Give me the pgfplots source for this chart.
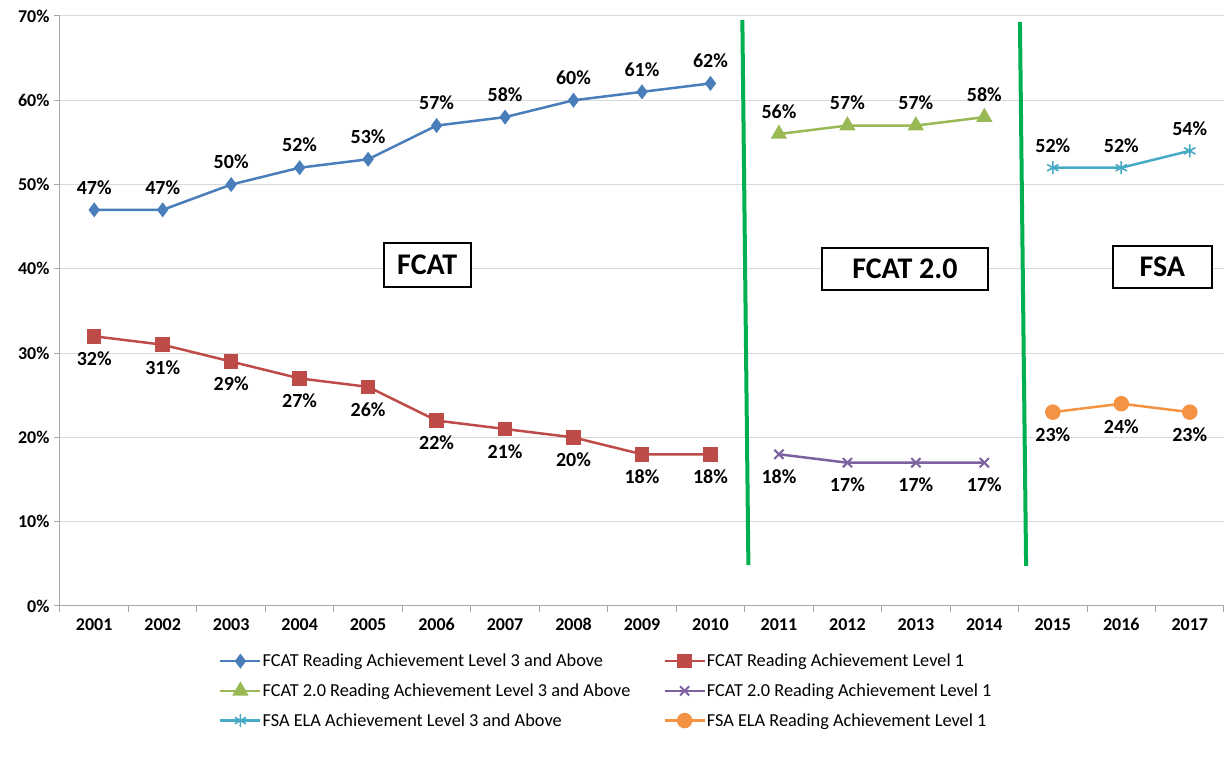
\documentclass[border=0pt]{standalone}
\usepackage{pgfplots}
\pgfplotsset{compat=1.18}
\usepackage{fontspec}
\setmainfont{Carlito}
\definecolor{cblue}{HTML}{4A7EBB}
\definecolor{cred}{HTML}{BE4B48}
\definecolor{cgreen}{HTML}{98B954}
\definecolor{cpurple}{HTML}{7D60A0}
\definecolor{cteal}{HTML}{46AAC5}
\definecolor{corange}{HTML}{F39343}
\definecolor{vgreen}{HTML}{00B050}
\definecolor{gridc}{HTML}{D9D9D9}
\begin{document}
\begin{tikzpicture}
\begin{axis}[
  scale only axis,
  width=1164pt, height=590pt,
  xmin=-0.5, xmax=16.5, ymin=0, ymax=70,
  axis x line*=bottom, axis y line*=left,
  axis line style={draw=gray!70, line width=1pt},
  xtick={0,...,16},
  xticklabels={2001,2002,2003,2004,2005,2006,2007,2008,2009,2010,2011,2012,2013,2014,2015,2016,2017},
  minor xtick={-0.5,0.5,...,16.5},
  major x tick style={draw=none},
  minor x tick style={draw=gray!70, line width=1pt},
  ytick={0,10,...,70},
  yticklabel={\pgfmathprintnumber{\tick}\%},
  ymajorgrids, grid style={gridc, line width=1pt},
  y tick style={draw=gray!70, line width=1pt},
  tick align=outside,
  major tick length=6pt, minor tick length=6pt,
  ticklabel style={font=\fontsize{18}{20}\selectfont\bfseries},
  /pgf/number format/assume math mode=true,
  xticklabel style={yshift=-3pt},
  yticklabel style={xshift=-1pt},
  clip=false,
  nodes near coords={\pgfmathprintnumber{\pgfplotspointmeta}\%},
  every node near coord/.style={font=\fontsize{20}{22}\selectfont\bfseries, text=black},
  legend style={draw=none, fill=none, at={(axis description cs:0.134,-0.076)}, anchor=north west,
    font=\fontsize{18.3}{20}\selectfont, legend cell align=left,
    nodes={inner sep=1pt}, row sep=13.5pt,
    /tikz/every even column/.style={column sep=32pt}},
  legend columns=2,
  legend image code/.code={
    \draw[#1, mark repeat=2, mark phase=2] plot coordinates {(0pt,0pt) (20pt,0pt) (40pt,0pt)};},
  every axis plot/.append style={line width=2.5pt},
]
\addplot[cblue, mark=diamond*, mark size=5.5pt, mark options={solid},
  every node near coord/.append style={anchor=south, yshift=11pt}]
  coordinates {(0,47)(1,47)(2,50)(3,52)(4,53)(5,57)(6,58)(7,60)(8,61)(9,62)};
\addlegendentry{FCAT Reading Achievement Level 3 and Above}
\addplot[cred, mark=square*, mark size=6pt,
  every node near coord/.append style={anchor=north, yshift=-11pt}]
  coordinates {(0,32)(1,31)(2,29)(3,27)(4,26)(5,22)(6,21)(7,20)(8,18)(9,18)};
\addlegendentry{FCAT Reading Achievement Level 1}
\addplot[cgreen, mark=triangle*, mark size=7pt,
  every node near coord/.append style={anchor=south, yshift=11pt}]
  coordinates {(10,56)(11,57)(12,57)(13,58)};
\addlegendentry{FCAT 2.0 Reading Achievement Level 3 and Above}
\addplot[cpurple, mark=x, mark size=6.5pt, mark options={line width=2pt},
  every node near coord/.append style={anchor=north, yshift=-11pt}]
  coordinates {(10,18)(11,17)(12,17)(13,17)};
\addlegendentry{FCAT 2.0 Reading Achievement Level 1}
\addplot[cteal, mark=asterisk, mark size=6.5pt, mark options={line width=1.6pt},
  every node near coord/.append style={anchor=south, yshift=11pt}]
  coordinates {(14,52)(15,52)(16,54)};
\addlegendentry{FSA ELA Achievement Level 3 and Above}
\addplot[corange, mark=*, mark size=6.5pt,
  every node near coord/.append style={anchor=north, yshift=-11pt}]
  coordinates {(14,23)(15,24)(16,23)};
\addlegendentry{FSA ELA Reading Achievement Level 1}
\draw[vgreen, line width=4pt] (axis cs:9.466,69.5) -- (axis cs:9.554,4.86);
\draw[vgreen, line width=4pt] (axis cs:13.52,69.3) -- (axis cs:13.61,4.75);
\node[draw=black, line width=1.6pt, fill=white, minimum width=87pt, minimum height=44pt, font=\fontsize{30}{32}\selectfont\bfseries] at (axis cs:4.864,40.46) {FCAT};
\node[draw=black, line width=1.6pt, fill=white, minimum width=166pt, minimum height=42pt, font=\fontsize{30}{32}\selectfont\bfseries] at (axis cs:11.84,39.98) {FCAT 2.0};
\node[draw=black, line width=1.6pt, fill=white, minimum width=99pt, minimum height=42pt, font=\fontsize{30}{32}\selectfont\bfseries] at (axis cs:15.60,40.22) {FSA};
\end{axis}
\path (-60pt,-169pt) rectangle (1165pt,606pt);
\end{tikzpicture}
\end{document}
